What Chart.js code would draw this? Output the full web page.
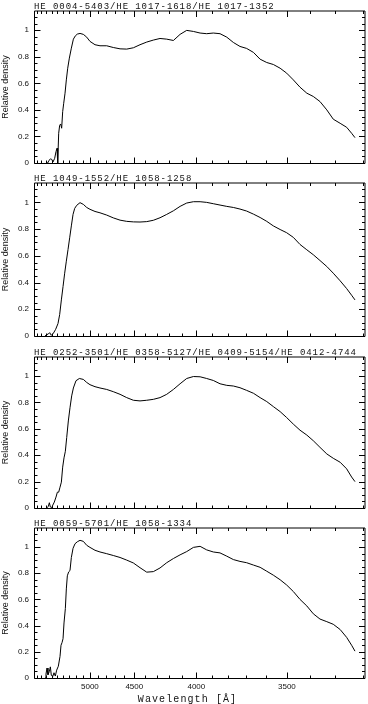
<!DOCTYPE html>
<html>
<head>
<meta charset="utf-8">
<script src="https://cdn.jsdelivr.net/npm/chart.js@4.4.0/dist/chart.umd.min.js"></script>
<style>
  html, body { margin:0; padding:0; background:#fff; }
  body { width:368px; height:704px; position:relative; overflow:hidden; }
  .pnl { position:absolute; left:0; width:368px; }
  .pnl canvas { display:block; }
</style>
</head>
<body>
<div class="pnl" style="top:0px"><canvas id="c1" width="368" height="165"></canvas></div>
<div class="pnl" style="top:172px"><canvas id="c2" width="368" height="166"></canvas></div>
<div class="pnl" style="top:346px"><canvas id="c3" width="368" height="164"></canvas></div>
<div class="pnl" style="top:517px"><canvas id="c4" width="368" height="187"></canvas></div>
<script>
// ---- data (wavelength in Angstrom, relative density) ----
var title1 = "HE 0004-5403/HE 1017-1618/HE 1017-1352";
var wl1 = [5706,5673,5648,5622,5597,5573,5543,5519,5501,5489,5472,5455,5438,5421,5404,5387,5365,5344,5322,5296,5265,5234,5204,5175,
  5136,5089,5043,4999,4934,4872,4792,4717,4644,4575,4509,4446,4385,4327,4271,4217,4165,4115,4067,4020,3975,3932,3890,3849,3809,3771,
  3734,3698,3662,3628,3595,3563,3531,3501,3471,3442,3413,3386,3359,3332,3307,3281,3257,3239,3227];
var dens1 = [0,0,0.02,0.03,0.028,0.008,0.035,0.086,0.111,0,0.224,0.284,0.294,0.262,0.387,0.45,0.526,0.626,0.714,0.79,0.865,0.933,0.958,0.971,
  0.976,0.969,0.948,0.916,0.891,0.883,0.883,0.870,0.860,0.858,0.868,0.891,0.911,0.926,0.938,0.933,0.923,0.969,0.999,0.991,0.979,0.974,0.979,0.974,0.948,0.908,
  0.878,0.863,0.833,0.782,0.757,0.742,0.714,0.677,0.626,0.571,0.526,0.501,0.463,0.400,0.330,0.299,0.269,0.224,0.191];

var title2 = "HE 1049-1552/HE 1058-1258";
var wl2 = [5725,5692,5660,5635,5604,5567,5525,5484,5455,5426,5398,5371,5344,5317,5291,5265,5239,5214,5184,
  5136,5089,5043,4999,4934,4872,4792,4717,4644,4575,4509,4446,4385,4327,4271,4217,4165,4115,4067,4020,3975,3932,3890,3849,3809,3771,
  3734,3698,3662,3628,3595,3563,3531,3501,3471,3442,3413,3386,3359,3332,3307,3281,3257,3239,3227];
var dens2 = [0,0.01,0.015,0.025,0.005,0.02,0.05,0.093,0.16,0.27,0.37,0.47,0.56,0.647,0.735,0.824,0.91,0.955,0.978,
  0.998,0.985,0.962,0.948,0.932,0.922,0.905,0.884,0.867,0.858,0.854,0.853,0.856,0.866,0.885,0.91,0.937,0.97,0.995,1.005,1.005,1.0,0.99,0.98,0.97,0.962,
  0.95,0.935,0.912,0.887,0.858,0.824,0.797,0.773,0.738,0.685,0.645,0.608,0.565,0.52,0.47,0.413,0.355,0.305,0.27];

var title3 = "HE 0252-3501/HE 0358-5127/HE 0409-5154/HE 0412-4744";
var wl3 = [5692,5660,5641,5622,5597,5579,5549,5519,5495,5472,5449,5426,5404,5382,5360,5338,5312,5286,5260,5234,5195,5146,
  5089,5043,4999,4934,4872,4792,4717,4644,4575,4509,4446,4385,4327,4271,4217,4165,4115,4067,4020,3975,3932,3890,3849,3809,3771,
  3734,3698,3662,3628,3595,3563,3531,3501,3471,3442,3413,3386,3359,3332,3307,3281,3257,3239,3227];
var dens3 = [0,0.013,0.04,0.008,0,0.02,0.045,0.083,0.12,0.12,0.158,0.196,0.31,0.38,0.43,0.535,0.66,0.76,0.85,0.91,0.965,0.982,
  0.975,0.952,0.935,0.92,0.91,0.899,0.882,0.862,0.837,0.817,0.812,0.817,0.824,0.837,0.862,0.899,0.942,0.982,0.997,0.995,0.982,0.967,0.942,0.93,0.925,
  0.912,0.892,0.87,0.837,0.807,0.769,0.731,0.686,0.636,0.59,0.553,0.51,0.46,0.41,0.377,0.347,0.297,0.235,0.2];

var title4 = "HE 0059-5701/HE 1058-1334";
var wl4 = [5725,5706,5686,5667,5641,5622,5604,5579,5555,5531,5507,5478,5449,5432,5415,5398,5382,5360,5344,5328,5307,5286,5265,5239,5209,5175,
  5136,5089,5043,4999,4934,4872,4792,4717,4644,4575,4509,4446,4385,4327,4271,4217,4165,4115,4067,4020,3975,3932,3890,3849,3809,3771,
  3734,3698,3662,3628,3595,3563,3531,3501,3471,3442,3413,3386,3359,3332,3307,3281,3257,3239,3227];
var dens4 = [0,0.03,0.076,0.025,0.05,0.085,0.02,0.01,0.04,0.015,0.06,0.09,0.165,0.25,0.27,0.30,0.42,0.53,0.68,0.78,0.81,0.82,0.92,0.99,1.025,1.04,
  1.051,1.043,1.013,0.997,0.975,0.962,0.949,0.935,0.92,0.9,0.878,0.842,0.808,0.812,0.84,0.88,0.912,0.94,0.965,0.997,1.005,0.978,0.962,0.955,0.93,0.904,
  0.89,0.88,0.862,0.845,0.815,0.785,0.75,0.71,0.66,0.6,0.55,0.49,0.45,0.43,0.41,0.37,0.31,0.25,0.205];

// axis ticks / labels
var xMajorWl = [5000,4500,4000,3500];
var xRangeWl = [5957,3192];
var yMajor = [0,0.2,0.4,0.6,0.8,1];
var yRange = [0,1.145];
var xTitle = "Wavelength [\u00c5]";
var yTitle = "Relative density";

// the wavelength axis is plotted linear in 1/lambda^2
function toU(w){ return 1e8/(w*w); }

var frameTicks = {
  id:"frameTicks",
  afterDraw:function(chart){
    var ctx = chart.ctx, a = chart.chartArea, xs = chart.scales.x, ys = chart.scales.y;
    var opt = chart.options.plugins.frameTicks;
    var L = Math.floor(a.left)+0.5, B = Math.floor(a.bottom)+0.5, T = a.top, R = a.right;
    ctx.save();
    ctx.strokeStyle = "#000";
    ctx.lineWidth = 1;
    ctx.beginPath();
    ctx.moveTo(L,T); ctx.lineTo(L,B); ctx.lineTo(R,B); ctx.lineTo(R,T); ctx.lineTo(L,T);
    // x ticks every 100 A, long ones at labelled wavelengths
    for (var w=3200; w<=5900; w+=100){
      var px = Math.round(xs.getPixelForValue(toU(w)))+0.5;
      var len = xMajorWl.indexOf(w)>=0 ? 6 : 3;
      ctx.moveTo(px,B); ctx.lineTo(px,B-len);
      ctx.moveTo(px,T); ctx.lineTo(px,T+len);
    }
    // y ticks every 0.05
    for (var k=0; k<=22; k++){
      var v = k*0.05;
      var py = Math.round(ys.getPixelForValue(v))+0.5;
      var ln = (k%4===0) ? 6 : 3;
      ctx.moveTo(L,py); ctx.lineTo(L+ln,py);
      ctx.moveTo(R,py); ctx.lineTo(R-ln,py);
    }
    ctx.stroke();

    ctx.fillStyle = "#111";
    ctx.textAlign = "left";
    ctx.textBaseline = "alphabetic";
    ctx.font = '9px "Liberation Mono"';
    ctx.letterSpacing = "0.93px";
    ctx.fillText(opt.title, a.left, a.top-2.5);
    if (opt.xTitle){
      ctx.font = '10px "Liberation Mono"';
      ctx.letterSpacing = "1.1px";
      ctx.textAlign = "center";
      ctx.fillText(opt.xTitle, (a.left+a.right)/2-12, chart.height-2);
    }
    ctx.letterSpacing = "0px";
    ctx.restore();
  }
};

function MakePanel(id, title, wl, dens, last){
  var pts = wl.map(function(w,i){ return {x:toU(w), y:dens[i]}; });
  return new Chart(document.getElementById(id), {
    type:"line",
    data:{ datasets:[{ data:pts, borderColor:"#000", borderWidth:1, pointRadius:0, fill:false, tension:0 }] },
    options:{
      responsive:false,
      animation:false,
      layout:{ padding:{ top:11, bottom: last ? 0 : 2, left:0, right:3 } },
      plugins:{
        legend:{ display:false },
        tooltip:{ enabled:false },
        frameTicks:{ title:title, xTitle: last ? xTitle : null }
      },
      scales:{
        x:{
          type:"linear",
          display: last,
          min:toU(xRangeWl[0]), max:toU(xRangeWl[1]),
          grid:{ display:false, drawTicks:false },
          border:{ display:false },
          afterBuildTicks:function(s){ s.ticks = xMajorWl.map(function(w){ return {value:toU(w)}; }); },
          afterFit:function(s){ s.height = last ? 26 : 0; s.paddingLeft = 0; s.paddingRight = 0; },
          ticks:{
            autoSkip:false, maxRotation:0, padding:4, color:"#111",
            font:{ family:"Liberation Sans", size:8 },
            callback:function(v,i){ return String(xMajorWl[i]); }
          }
        },
        y:{
          type:"linear",
          min:yRange[0], max:yRange[1],
          grid:{ display:false, drawTicks:false },
          border:{ display:false },
          afterBuildTicks:function(s){ s.ticks = yMajor.map(function(v){ return {value:v}; }); },
          afterFit:function(s){ s.width = 34; s.paddingTop = 0; s.paddingBottom = 0; },
          ticks:{
            padding:5, color:"#111",
            font:{ family:"Liberation Sans", size:8 },
            callback:function(v){ return String(+v.toFixed(1)); }
          },
          title:{ display:true, text:yTitle, color:"#111", padding:0, font:{ family:"Liberation Sans", size:9 } }
        }
      }
    },
    plugins:[frameTicks]
  });
}

MakePanel("c1", title1, wl1, dens1, false);
MakePanel("c2", title2, wl2, dens2, false);
MakePanel("c3", title3, wl3, dens3, false);
MakePanel("c4", title4, wl4, dens4, true);
</script>
</body>
</html>
